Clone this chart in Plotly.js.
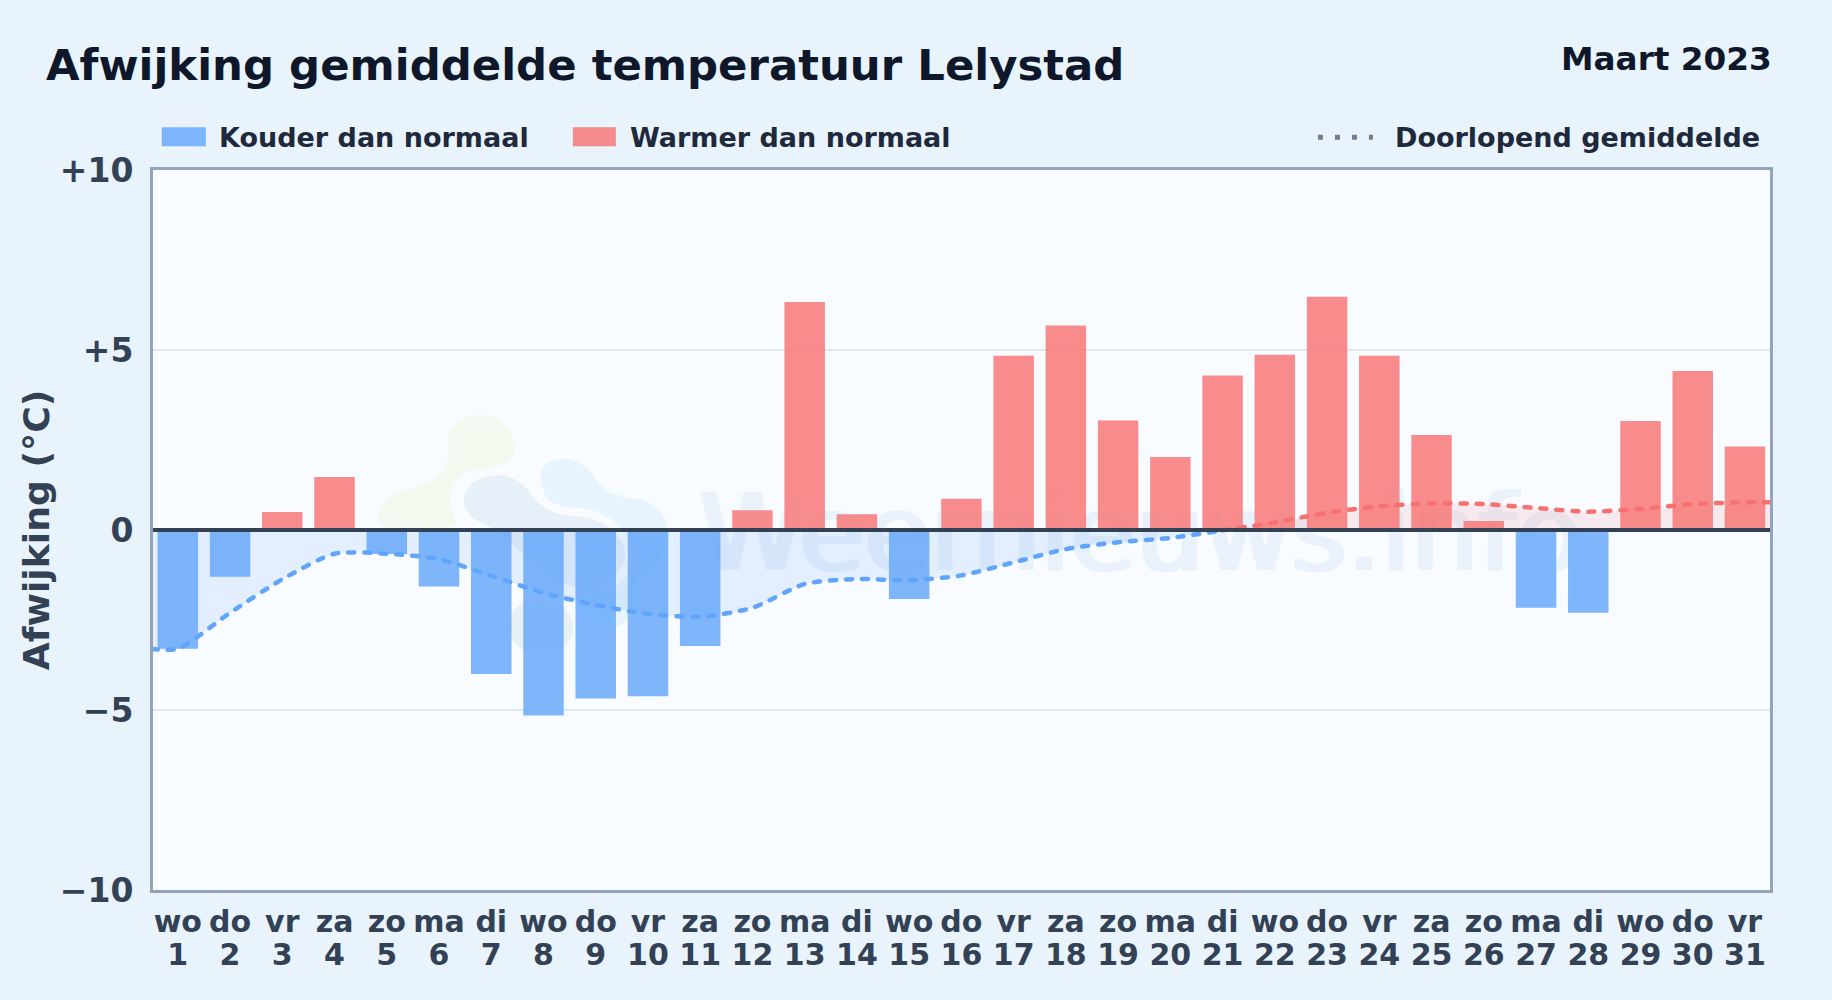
<!DOCTYPE html>
<html>
<head>
<meta charset="utf-8">
<script src="https://cdn.plot.ly/plotly-3.0.1.min.js"></script>
<style>html,body{margin:0;padding:0;background:#e8f3fc}</style>
</head>
<body>
<div id="chart" style="width:1832px;height:1000px"></div>
<script>
const days = [1,2,3,4,5,6,7,8,9,10,11,12,13,14,15,16,17,18,19,20,21,22,23,24,25,26,27,28,29,30,31];
const weekdays = ["wo","do","vr","za","zo","ma","di","wo","do","vr","za","zo","ma","di","wo","do","vr","za","zo","ma","di","wo","do","vr","za","zo","ma","di","wo","do","vr"];
const dayLabels = ["1","2","3","4","5","6","7","8","9","10","11","12","13","14","15","16","17","18","19","20","21","22","23","24","25","26","27","28","29","30","31"];
const coldDays = [1,2,5,6,7,8,9,10,11,15,27,28];
const coldValues = [-3.3,-1.3,-0.67,-1.57,-4.0,-5.15,-4.68,-4.62,-3.22,-1.92,-2.16,-2.3];
const warmDays = [3,4,12,13,14,16,17,18,19,20,21,22,23,24,25,26,29,30,31];
const warmValues = [0.5,1.47,0.55,6.33,0.44,0.87,4.84,5.68,3.04,2.03,4.29,4.87,6.48,4.84,2.64,0.25,3.03,4.42,2.32];
const meanColdDays = [0.5,1,2,3,4,5,6,7,8,9,10,11,12,13,14,15,16,17,18,19,20,21];
const meanColdValues = [-3.3,-3.3,-2.3,-1.37,-0.66,-0.66,-0.81,-1.27,-1.75,-2.08,-2.33,-2.41,-2.16,-1.5,-1.36,-1.4,-1.26,-0.9,-0.53,-0.34,-0.22,-0.01];
const meanWarmDays = [21,22,23,24,25,26,27,28,29,30,31,31.5];
const meanWarmValues = [-0.01,0.21,0.48,0.66,0.74,0.72,0.61,0.51,0.59,0.72,0.77,0.77];
const yTicks = [10,5,0,-5,-10];
const yTickLabels = ["+10","+5","0","\u22125","\u221210"];

const W = 1832, H = 1000, L = 153.2, R = 1770, T = 169.8, B = 890.2;
const px = x => (x - L) / (R - L);
const py = y => (B - y) / (B - T);
function blob(pts, fill, halo) {
  const m = (a, b) => [(a[0] + b[0]) / 2, (a[1] + b[1]) / 2];
  const n = pts.length;
  const f = p => px(p[0]).toFixed(4) + "," + py(p[1]).toFixed(4);
  let d = "M" + f(m(pts[n - 1], pts[0]));
  for (let i = 0; i < n; i++) d += " Q" + f(pts[i]) + " " + f(m(pts[i], pts[(i + 1) % n]));
  const base = {type: "path", xref: "paper", yref: "paper", layer: "below", path: d + " Z"};
  const out = [];
  if (halo) out.push(Object.assign({}, base, {fillcolor: "#f8fbff", line: {color: "#f8fbff", width: 17}}));
  out.push(Object.assign({}, base, {fillcolor: fill, line: {width: 0}}));
  return out;
}
const greenBlob = [[447,433],[460,418],[483,413],[507,423],[518,447],[510,463],[490,468],[463,472],[450,490],[452,510],[460,530],[380,530],[378,512],[390,495],[417,487],[440,477],[450,457]];
const lightBlob = [[537,477],[548,460],[573,458],[590,470],[603,490],[623,498],[650,500],[668,520],[668,547],[650,570],[632,580],[630,617],[617,630],[590,623],[573,603],[560,530]];
const darkBlob = [[462,500],[472,480],[503,473],[525,485],[537,503],[557,515],[590,517],[610,527],[627,547],[623,570],[600,587],[573,590],[530,560],[493,527],[470,518]];
const lowBlob = [[513,607],[540,598],[568,607],[575,630],[567,647],[540,655],[515,647],[507,627]];

function noteP(text, x, y, size, color, anchor) {
  return {text, x: px(x), y: py(y), xref: "paper", yref: "paper", xanchor: anchor || "left", yanchor: "middle",
          showarrow: false, font: {family: "DejaVu Sans", size, color, weight: 700}};
}
function mark(dx) {
  return {type: "rect", xref: "paper", yref: "paper", layer: "below", x0: px(714 + dx), x1: px(1567 + dx), y0: py(590), y1: py(460), line: {width: 0}, fillcolor: "rgba(0,0,0,0)",
     label: {text: "Weernieuws.info", textposition: "middle center", font: {family: "DejaVu Sans", size: 107, color: "#e9f2fb"}}};
}

const font = "DejaVu Sans";
const traces = [
  {type: "bar", name: "Kouder dan normaal", x: coldDays, y: coldValues, width: 0.775, marker: {color: "rgba(96,165,250,0.8)", line: {width: 0}}, hoverinfo: "x+y"},
  {type: "bar", name: "Warmer dan normaal", x: warmDays, y: warmValues, width: 0.775, marker: {color: "rgba(248,113,113,0.8)", line: {width: 0}}, hoverinfo: "x+y"},
  {type: "scatter", mode: "lines", name: "Doorlopend gemiddelde", xaxis: "x2", x: meanColdDays, y: meanColdValues, fill: "tozeroy", fillcolor: "rgba(96,165,250,0.14)",
   line: {color: "#60a5fa", width: 4.5, dash: "6px,10px", shape: "spline", smoothing: 0.7}, hoverinfo: "x+y"},
  {type: "scatter", mode: "lines", name: "Doorlopend gemiddelde", xaxis: "x2", x: meanWarmDays, y: meanWarmValues, fill: "tozeroy", fillcolor: "rgba(248,113,113,0.12)",
   line: {color: "#f87171", width: 4.5, dash: "6px,10px", shape: "spline", smoothing: 0.7}, hoverinfo: "x+y"}
];
const layout = {
  width: W, height: H,
  margin: {l: L, r: W - R, t: T, b: H - B, pad: 0},
  paper_bgcolor: "#e8f3fc", plot_bgcolor: "#f8fbff",
  font: {family: font, color: "#334155"},
  showlegend: false, barmode: "overlay", hovermode: "closest",
  title: {text: "Afwijking gemiddelde temperatuur Lelystad", x: 46 / W, xanchor: "left", xref: "container",
          y: 1 - 65 / H, yanchor: "middle", yref: "container", pad: {t: 0, b: 0, l: 0, r: 0},
          font: {family: font, size: 43.4, color: "#0f172a", weight: 700}},
  xaxis: {range: [0.525, 31.479], tickmode: "array", tickvals: days, ticktext: weekdays, tickangle: 0, ticklen: 0, ticklabelstandoff: 3,
          tickfont: {family: font, size: 30, color: "#334155", weight: 700}, showgrid: false, zeroline: false,
          showline: true, mirror: true, linecolor: "#94a3b8", linewidth: 3},
  xaxis2: {range: [0.525, 31.479], overlaying: "x", anchor: "y", side: "bottom", tickmode: "array", tickvals: days, ticktext: dayLabels, tickangle: 0, ticklen: 0, ticklabelstandoff: 44,
          tickfont: {family: font, size: 30, color: "#334155", weight: 700}, showgrid: false, zeroline: false, showline: false},
  yaxis: {range: [-10, 10], tickmode: "array", tickvals: yTicks, ticktext: yTickLabels, ticklen: 0, ticklabelstandoff: 10,
          tickfont: {family: font, size: 33, color: "#334155", weight: 700}, gridcolor: "#e2e8f0", gridwidth: 2, zeroline: false,
          showline: true, mirror: true, linecolor: "#94a3b8", linewidth: 3,
          title: {text: "Afwijking (\u00b0C)", standoff: 0, font: {family: font, size: 36.2, color: "#334155", weight: 700}}},
  shapes: [].concat(
    blob(greenBlob, "#f3f9ef"),
    blob(lightBlob, "#e7f4fe"),
    blob(lowBlob, "#e8f0f8", true),
    blob(darkBlob, "#e7eff8", true),
    [mark(-2.5), mark(0), mark(2.5),
    {type: "line", xref: "paper", yref: "y", layer: "above", x0: 0, x1: 1, y0: 0, y1: 0, line: {color: "#334155", width: 4}},
    {type: "rect", xref: "paper", yref: "paper", x0: px(162), x1: px(206), y0: py(146), y1: py(127), fillcolor: "rgba(96,165,250,0.8)", line: {width: 0}},
    {type: "rect", xref: "paper", yref: "paper", x0: px(573), x1: px(616), y0: py(146), y1: py(127), fillcolor: "rgba(248,113,113,0.8)", line: {width: 0}},
    {type: "line", xref: "paper", yref: "paper", x0: px(1318), x1: px(1373), y0: py(137), y1: py(137), line: {color: "#6f7f93", width: 5, dash: "5px,12px"}}]
  ),
  annotations: [
    noteP("Maart 2023", 1774, 59, 32.7, "#0f172a", "right"),
    noteP("Kouder dan normaal", 217, 137, 27, "#1e293b"),
    noteP("Warmer dan normaal", 628.5, 137, 27, "#1e293b"),
    noteP("Doorlopend gemiddelde", 1393, 137, 27, "#1e293b")
  ]
};
Plotly.newPlot("chart", traces, layout, {displayModeBar: false, staticPlot: true}).then(() => {
  document.querySelectorAll("#chart .js-line").forEach(p => { p.style.strokeLinecap = "round"; });
});
</script>
</body>
</html>
